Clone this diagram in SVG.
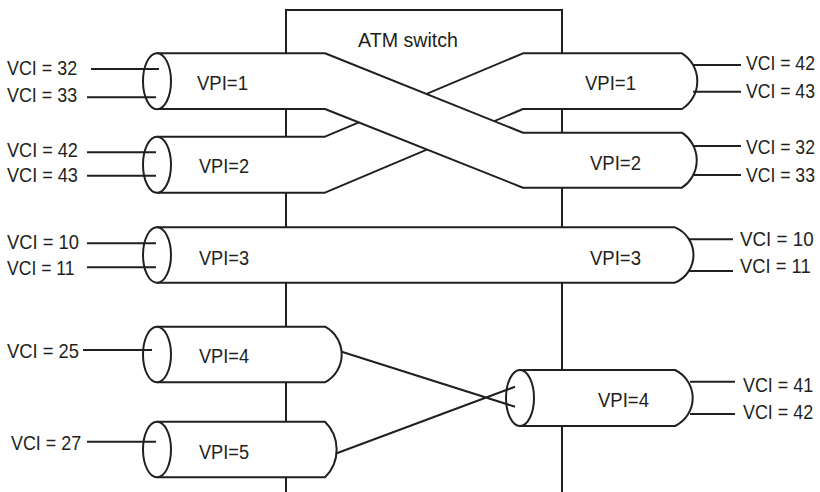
<svg xmlns="http://www.w3.org/2000/svg" width="820" height="492" viewBox="0 0 820 492">
<style>
.ln{fill:none;stroke:#231f20;stroke-width:2}
.pipe{fill:#fff;stroke:#231f20;stroke-width:2;stroke-linejoin:round}
.t{font-family:"Liberation Sans",Arial,sans-serif;font-size:20px;fill:#231f20}
</style>
<rect width="820" height="492" fill="#fff"/>
<g id="switch">
<path class="ln" d="M286,492 V10 H562 V492"/>
<text class="t" x="358" y="47" textLength="100" lengthAdjust="spacingAndGlyphs">ATM switch</text>
</g>
<g id="vpi2-to-vpi1">
<path class="pipe" d="M157,136.7 H325 L523,53.3 H682 A33,33 0 0 1 682,109 H523 L325,192.7 H157 Z"/>
</g>
<g id="vpi1-to-vpi2">
<path class="pipe" d="M157,53.3 H325 L523,132.7 H682 A33,33 0 0 1 682,187.7 H523 L325,109 H157 Z"/>
<ellipse class="pipe" cx="157" cy="81.2" rx="14" ry="28"/>
<ellipse class="pipe" cx="157" cy="164.7" rx="14" ry="28"/>
</g>
<g id="vpi3">
<path class="pipe" d="M157,227.3 H675 A30,30 0 0 1 675,282.7 H157 Z"/>
<ellipse class="pipe" cx="157" cy="255" rx="14" ry="27.7"/>
</g>
<g id="vpi4-in">
<path class="pipe" d="M157,326.7 H325 A31.5,31.5 0 0 1 325,382.3 H157 Z"/>
<ellipse class="pipe" cx="157" cy="354.5" rx="14" ry="27.8"/>
</g>
<g id="vpi5-in">
<path class="pipe" d="M157,421.7 H325 A39,39 0 0 1 325,477.3 H157 Z"/>
<ellipse class="pipe" cx="157" cy="449.5" rx="14" ry="27.8"/>
</g>
<g id="vpi4-out">
<path class="pipe" d="M520,370 H675 A31,31 0 0 1 675,426 H520 Z"/>
<ellipse class="pipe" cx="520" cy="398" rx="14" ry="28"/>
</g>
<g id="connectors">
<path class="ln" d="M91,69 H159 M87,97.3 H156 M87,152.3 H156 M87,175.7 H156 M87,243.3 H156 M87,267.3 H156 M83,350 H152 M87,441.7 H156"/>
<path class="ln" d="M693,65 H741 M693,91.7 H741 M694,146 H741 M694,175 H741 M689,239.3 H733 M689,271 H733 M690,381.7 H735 M690,414 H735"/>
<path class="ln" d="M341.7,351.7 L515,406.7 M336.7,453.3 L515,386.7"/>
</g>
<g id="labels">
<text class="t" transform="translate(7,75) scale(0.895,1)">VCI = 32</text>
<text class="t" transform="translate(7,101.5) scale(0.895,1)">VCI = 33</text>
<text class="t" transform="translate(7,157) scale(0.905,1)">VCI = 42</text>
<text class="t" transform="translate(7,181.7) scale(0.905,1)">VCI = 43</text>
<text class="t" transform="translate(7,249) scale(0.92,1)">VCI = 10</text>
<text class="t" transform="translate(7,275) scale(0.88,1)">VCI = 11</text>
<text class="t" transform="translate(7,358) scale(0.92,1)">VCI = 25</text>
<text class="t" transform="translate(11,450) scale(0.895,1)">VCI = 27</text>
<text class="t" transform="translate(746,70) scale(0.88,1)">VCI = 42</text>
<text class="t" transform="translate(746,98) scale(0.88,1)">VCI = 43</text>
<text class="t" transform="translate(746,154) scale(0.88,1)">VCI = 32</text>
<text class="t" transform="translate(746,181.7) scale(0.88,1)">VCI = 33</text>
<text class="t" transform="translate(740,245.7) scale(0.94,1)">VCI = 10</text>
<text class="t" transform="translate(740,273.3) scale(0.92,1)">VCI = 11</text>
<text class="t" transform="translate(743,391.7) scale(0.895,1)">VCI = 41</text>
<text class="t" transform="translate(743,419.3) scale(0.895,1)">VCI = 42</text>
<text class="t" x="197" y="90" textLength="51" lengthAdjust="spacingAndGlyphs">VPI=1</text>
<text class="t" x="199" y="173" textLength="50" lengthAdjust="spacingAndGlyphs">VPI=2</text>
<text class="t" x="199" y="265" textLength="50" lengthAdjust="spacingAndGlyphs">VPI=3</text>
<text class="t" x="199" y="363" textLength="50" lengthAdjust="spacingAndGlyphs">VPI=4</text>
<text class="t" x="199" y="459" textLength="50" lengthAdjust="spacingAndGlyphs">VPI=5</text>
<text class="t" x="585" y="90" textLength="51" lengthAdjust="spacingAndGlyphs">VPI=1</text>
<text class="t" x="590" y="170" textLength="51" lengthAdjust="spacingAndGlyphs">VPI=2</text>
<text class="t" x="590" y="265" textLength="51" lengthAdjust="spacingAndGlyphs">VPI=3</text>
<text class="t" x="598" y="407" textLength="51" lengthAdjust="spacingAndGlyphs">VPI=4</text>
</g>
</svg>
